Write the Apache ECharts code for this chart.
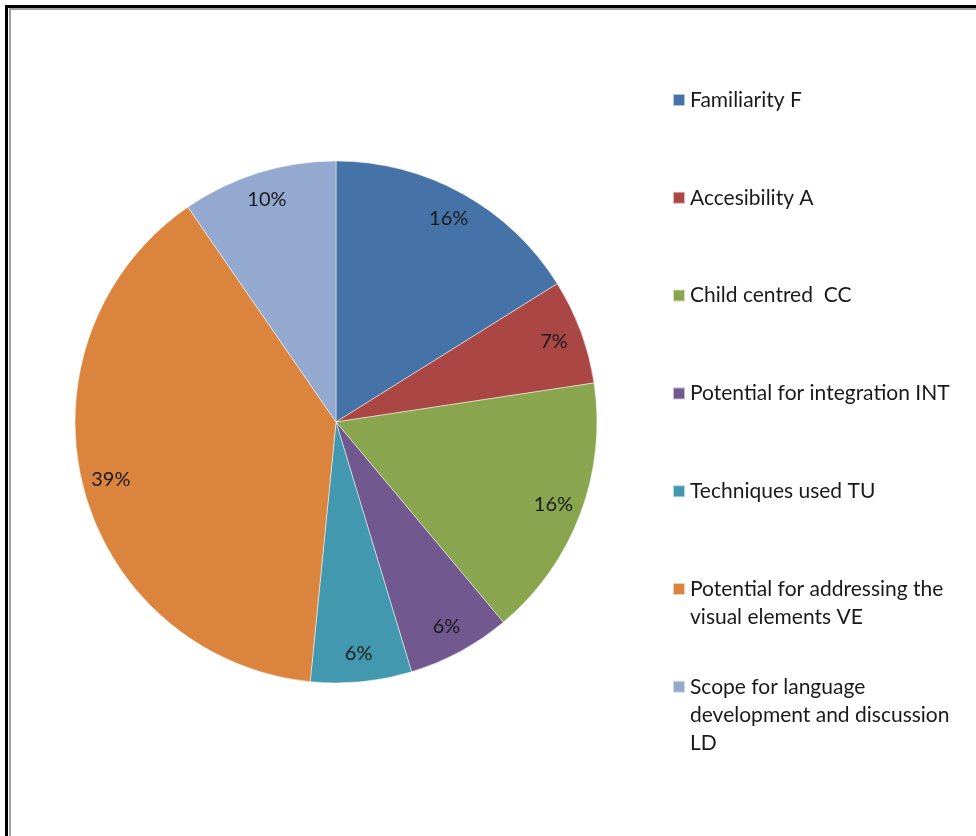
<!DOCTYPE html>
<html>
<head>
<meta charset="utf-8">
<script src="https://cdn.jsdelivr.net/npm/echarts@6/dist/echarts.min.js"></script>
<style>
  html, body { margin: 0; padding: 0; background: #fff; }
  #chart { position: absolute; left: 0; top: 0; width: 976px; height: 836px; }
  .bk { position: absolute; background: #000; pointer-events: none; }
  .gr { position: absolute; background: #a0a0a0; pointer-events: none; }
</style>
</head>
<body>
<div id="chart"></div>
<div class="bk" style="left:5px;top:5px;width:971px;height:3px;"></div>
<div class="bk" style="left:5px;top:5px;width:3px;height:831px;"></div>
<div class="gr" style="left:9px;top:8px;width:967px;height:2px;"></div>
<div class="gr" style="left:9px;top:8px;width:2px;height:828px;"></div>
<script>
// Categories (slice names), values (estimated share of each slice), legend labels
const categories = [
  'Familiarity F',
  'Accesibility A',
  'Child centred  CC',
  'Potential for integration INT',
  'Techniques used TU',
  'Potential for addressing the visual elements VE',
  'Scope for language development and discussion LD'
];
const values = [16.1, 6.5, 16.3, 6.4, 6.25, 38.8, 9.6];
const legendLabels = [
  'Familiarity F',
  'Accesibility A',
  'Child centred  CC',
  'Potential for integration INT',
  'Techniques used TU',
  'Potential for addressing the\nvisual elements VE',
  'Scope for language\ndevelopment and discussion\nLD'
];
const colors = ['#4572A7', '#AA4643', '#89A54E', '#71588F', '#4198AF', '#DB843D', '#93A9CF'];

const FONT = 'Lato';
const LINE_H = 28;
const pieData = categories.map((c, i) => ({ name: c, value: values[i] }));

const legends = categories.map((c, i) => {
  const nLines = legendLabels[i].split('\n').length;
  const centerY = 100 + i * 97.8;
  const pad = LINE_H * (nLines - 1);
  // leading blank lines keep the marker level with the first text line
  const text = '\n'.repeat(nLines - 1) + legendLabels[i];
  return {
    show: true,
    orient: 'vertical',
    left: 672,
    top: centerY - (pad + LINE_H / 2),
    padding: 0,
    itemWidth: 12,
    itemHeight: 12,
    icon: 'rect',
    selectedMode: false,
    data: [c],
    formatter: () => text,
    textStyle: { fontFamily: FONT, fontSize: 21, lineHeight: LINE_H, color: '#1a1a1a' }
  };
});

const chart = echarts.init(document.getElementById('chart'), null, { renderer: 'canvas' });
chart.setOption({
  animation: false,
  color: colors,
  legend: legends,
  series: [
    {
      type: 'pie',
      center: [336, 422],
      radius: [0, 261],
      startAngle: 90,
      clockwise: true,
      silent: true,
      label: { show: false },
      labelLine: { show: false },
      itemStyle: { borderColor: 'rgba(255,255,255,0.6)', borderWidth: 0.8 },
      data: pieData
    },
    {
      type: 'pie',
      center: [336, 422],
      radius: [198, 261],
      startAngle: 90,
      clockwise: true,
      silent: true,
      itemStyle: { color: 'rgba(0,0,0,0)' },
      label: {
        show: true,
        position: 'inside',
        fontFamily: FONT,
        fontSize: 20,
        color: '#1a1a1a',
        formatter: p => Math.round(p.percent) + '%'
      },
      labelLine: { show: false },
      data: pieData
    }
  ]
});
</script>
</body>
</html>
